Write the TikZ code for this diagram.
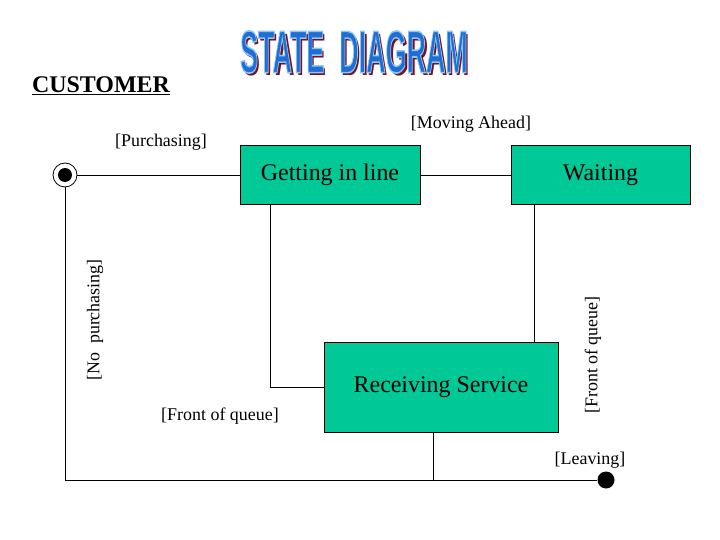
\documentclass[tikz,border=0pt]{standalone}
\usepackage{fontspec}
\setmainfont{Liberation Serif}
\newfontfamily\titlefont{Liberation Sans}
\usetikzlibrary{positioning}
\definecolor{stategreen}{RGB}{0,200,150}
\definecolor{titleblue}{RGB}{30,110,214}
\definecolor{titleshadow}{RGB}{120,16,32}
% outlined letters for the heading
\newcommand{\outlined}[1]{\special{pdf:literal direct 2 Tr 1.6 w 0.55 0.78 0.94 RG}#1\special{pdf:literal direct 0 Tr}}

\begin{document}
\begin{tikzpicture}[x=1bp,y=-1bp,line width=0.8bp]
  \useasboundingbox (0,0) rectangle (720,540);
  \tikzstyle{state}=[rectangle,draw,fill=stategreen,font=\fontsize{24}{28}\selectfont]
  \tikzstyle{guard}=[inner sep=0pt,font=\fontsize{18}{21}\selectfont]
  \tikzstyle{title}=[inner sep=0pt,xscale=0.45,font=\titlefont\bfseries\fontsize{60}{64}\selectfont]
  % heading
  \node[title,text=titleshadow] (shadow) at (356.5,55) {STATE\ \ DIAGRAM};
  \node[title,text=titleblue] (title) at (354,52) {\outlined{STATE\ \ DIAGRAM}};
  \node[inner sep=0pt,font=\bfseries\fontsize{24}{28}\selectfont] (customer) at (101,86) {\underline{CUSTOMER}};
  % states
  \node[state,minimum width=180bp,minimum height=59bp] (getting) at (330,175) {Getting in line};
  \node[state,minimum width=179bp,minimum height=59bp] (waiting) at (600.5,175) {Waiting};
  \node[state,minimum width=234bp,minimum height=90bp] (receiving) at (441,387) {Receiving Service};
  \node[circle,draw,minimum size=24bp,inner sep=0pt] (start) at (65,175) {};
  \node[circle,fill,minimum size=14bp,inner sep=0pt] at (start) {};
  \node[circle,fill,minimum size=17bp,inner sep=0pt] (stop) at (606,480) {};
  % transitions
  \draw (start) -- (getting);
  \draw (getting) -- (waiting);
  \draw (start) |- (stop);
  \coordinate (gq) at ([xshift=-60bp]getting.south);
  \draw (gq) |- (receiving.west);
  \coordinate (wq) at ([xshift=-66bp]waiting.south);
  \draw (wq) -- (wq |- receiving.north);
  \coordinate (rl) at ([xshift=-8bp]receiving.south);
  \draw (rl) -- (rl |- stop);
  % guards
  \node[guard] (purchasing) at (161,142) {[Purchasing]};
  \node[guard] (moving) at (471,124) {[Moving Ahead]};
  \node[guard,rotate=90] (nopurchasing) at (95,320) {[No\ \ purchasing]};
  \node[guard,rotate=90] (frontright) at (593,355) {[Front of queue]};
  \node[guard] (frontleft) at (220,416) {[Front of queue]};
  \node[guard] (leaving) at (590,460) {[Leaving]};
\end{tikzpicture}
\end{document}
